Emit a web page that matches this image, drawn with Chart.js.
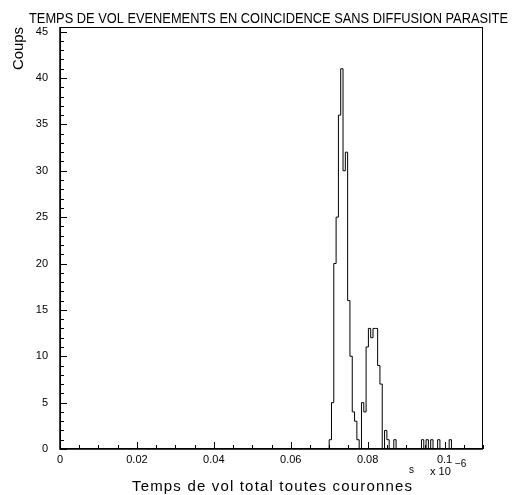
<!DOCTYPE html>
<html>
<head>
<meta charset="utf-8">
<style>
  html, body { margin: 0; padding: 0; background: #fff; }
  #wrap { width: 514px; height: 495px; }
</style>
</head>
<body>
<div id="wrap"><canvas id="histo"></canvas></div>
<script src="https://cdn.jsdelivr.net/npm/chart.js@4.4.1/dist/chart.umd.min.js"></script>
<script>
// histogram bins (x in units of 1e-6 s)
const binStart = 0.070;
const binWidth = 0.0006;
const counts = [
    1, 5, 20, 25, 36, 41, 30, 32, 16, 10, 4, 3, 1, 0,
    5, 4, 11, 13, 12, 13, 13, 9, 7, 0, 2, 1, 0, 0, 1,
    0, 0, 0, 0, 0, 0, 0, 0, 0, 0, 0,
    1, 0, 1, 0, 1, 0, 0, 1, 0, 0, 0, 0, 1
];
const xTicks = [0, 0.02, 0.04, 0.06, 0.08, 0.1];
const yTicks = [0, 5, 10, 15, 20, 25, 30, 35, 40, 45];

const title = 'TEMPS DE VOL EVENEMENTS EN COINCIDENCE SANS DIFFUSION PARASITE';
const xTitle = 'Temps de vol total toutes couronnes';
const yTitle = 'Coups';

const FONT = '"Liberation Sans", Arial, sans-serif';

// outline of the histogram as a stepped line
const points = [{ x: 0, y: 0 }];
for (let i = 0; i < counts.length; i++) {
    points.push({ x: binStart + i * binWidth, y: counts[i] });
}
points.push({ x: binStart + counts.length * binWidth, y: 0 });
points.push({ x: 0.11, y: 0 });

// stretch or squeeze a string to a given width
function fitText(ctx, text, x, y, width) {
    const w = ctx.measureText(text).width;
    if (w < width && text.length > 1) {
        ctx.letterSpacing = ((width - w) / (text.length - 1)) + 'px';
        ctx.fillText(text, x, y);
        ctx.letterSpacing = '0px';
    } else {
        ctx.fillText(text, x, y, width);
    }
}

const frame = {
    id: 'frame',
    afterDatasetsDraw(chart) {
        const ctx = chart.ctx;
        const a = chart.chartArea;
        const xs = chart.scales.x;
        const ys = chart.scales.y;
        ctx.save();
        ctx.strokeStyle = '#000';

        // box
        ctx.lineWidth = 1;
        ctx.strokeRect(a.left + 0.5, a.top + 0.5, a.right - a.left - 1, a.bottom - a.top - 1);
        ctx.lineWidth = 1.5;
        ctx.beginPath();
        ctx.moveTo(a.left, a.top);
        ctx.lineTo(a.left, a.bottom);
        ctx.lineTo(a.right, a.bottom);
        ctx.stroke();

        // inward ticks
        ctx.lineWidth = 1;
        ctx.beginPath();
        for (let i = 0; i <= 22; i++) {
            const v = i * 0.005;
            const px = Math.round(xs.getPixelForValue(v)) + 0.5;
            const len = (i % 4 === 0) ? 7 : 4;
            ctx.moveTo(px, a.bottom);
            ctx.lineTo(px, a.bottom - len);
        }
        for (let v = 0; v <= 45; v++) {
            const py = Math.round(ys.getPixelForValue(v)) + 0.5;
            const len = (v % 5 === 0) ? 7 : 4;
            ctx.moveTo(a.left, py);
            ctx.lineTo(a.left + len, py);
        }
        ctx.stroke();

        // texts
        ctx.fillStyle = '#000';
        ctx.textAlign = 'left';
        ctx.textBaseline = 'alphabetic';
        ctx.font = '14px ' + FONT;
        fitText(ctx, title, 29, 22.5, 479);

        ctx.font = '15px ' + FONT;
        fitText(ctx, xTitle, 132, 491, 280);

        ctx.font = '10px ' + FONT;
        ctx.fillText('s', 409, 473);
        ctx.font = '11px ' + FONT;
        ctx.fillText('x 10', 430, 475);
        ctx.font = '10px ' + FONT;
        ctx.fillText('\u22126', 455, 467);

        ctx.save();
        ctx.translate(23, 70);
        ctx.rotate(-Math.PI / 2);
        ctx.font = '15px ' + FONT;
        fitText(ctx, yTitle, 0, 0, 43);
        ctx.restore();

        ctx.restore();
    }
};

const chart = new Chart(document.getElementById('histo'), {
    type: 'line',
    data: {
        datasets: [{
            data: points,
            stepped: true,
            borderColor: '#000',
            borderWidth: 1,
            pointRadius: 0,
            fill: false
        }]
    },
    options: {
        responsive: true,
        maintainAspectRatio: false,
        animation: false,
        events: [],
        layout: { padding: { left: 0, right: 31, top: 27, bottom: 0 } },
        plugins: {
            legend: { display: false },
            title: { display: false },
            tooltip: { enabled: false }
        },
        scales: {
            x: {
                type: 'linear',
                min: 0,
                max: 0.11,
                grid: { display: false, drawTicks: false },
                border: { display: false },
                afterBuildTicks(scale) {
                    scale.ticks = xTicks.map(v => ({ value: v }));
                },
                afterFit(scale) { scale.height = 46; },
                ticks: {
                    color: '#000',
                    font: { family: FONT, size: 11 },
                    padding: 4,
                    maxRotation: 0,
                    callback: v => String(Number(v.toFixed(2)))
                }
            },
            y: {
                min: 0,
                max: 45.5,
                grid: { display: false, drawTicks: false },
                border: { display: false },
                afterBuildTicks(scale) {
                    scale.ticks = yTicks.map(v => ({ value: v }));
                },
                afterFit(scale) { scale.width = 60; },
                ticks: {
                    color: '#000',
                    font: { family: FONT, size: 11 },
                    padding: 12
                }
            }
        }
    },
    plugins: [frame]
});
</script>
</body>
</html>
